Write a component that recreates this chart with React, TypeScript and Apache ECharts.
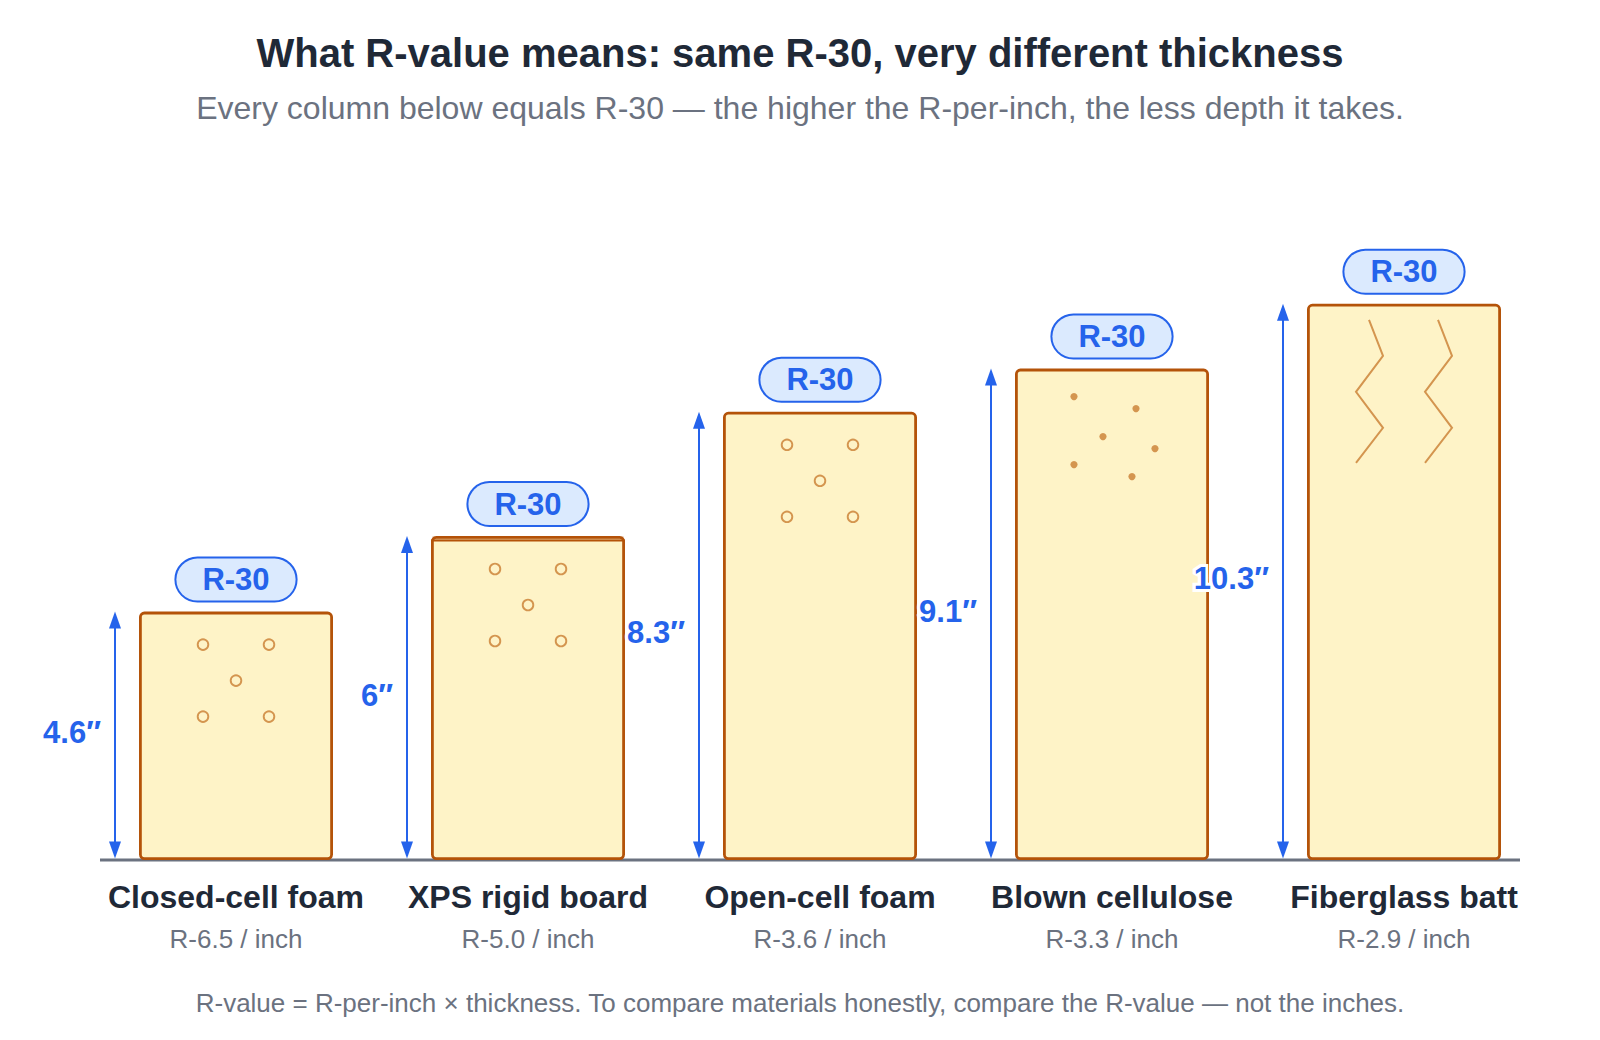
import React, { useEffect, useRef } from 'react';
import * as echarts from 'echarts';

// ---------- data ----------
const MATERIALS = ['Closed-cell foam', 'XPS rigid board', 'Open-cell foam', 'Blown cellulose', 'Fiberglass batt'];
const R_PER_INCH = [6.5, 5.0, 3.6, 3.3, 2.9];
const THICKNESS_IN = [4.6, 6, 8.3, 9.1, 10.3];
const TARGET_R = 30;
const TITLE = 'What R-value means: same R-30, very different thickness';
const SUBTITLE = 'Every column below equals R-30 — the higher the R-per-inch, the less depth it takes.';
const FOOTNOTE = 'R-value = R-per-inch × thickness. To compare materials honestly, compare the R-value — not the inches.';
const Y_MAX = 11;

// ---------- styles ----------
const TEXTURES = ['cells', 'cells-facer', 'cells', 'flecks', 'batt'];
const FONT = '"Liberation Sans", Arial, Helvetica, sans-serif';
const BLUE = '#2563eb';
const BAR_FILL = '#fef3c7';
const BAR_EDGE = '#b45309';
const TEX = '#d4954f';
const BAR_W = 194;

const fmtIn = (v: number) => `${v}″`;

const renderItem = (params: any, api: any) => {
  const i = api.value(0);
  const v = api.value(1);
  const top = api.coord([i, v]);
  const base = api.coord([i, 0]);
  const cx = top[0];
  const ty = top[1];
  const by = base[1];
  const half = BAR_W / 2;
  const ax = cx - half - 24;
  const children: any[] = [];

  // textures
  const tex = TEXTURES[i];
  if (tex === 'cells' || tex === 'cells-facer') {
    const pts = [[-33, 33], [33, 33], [0, 69], [-33, 105], [33, 105]];
    pts.forEach(([dx, dy]) => {
      children.push({
        type: 'circle',
        shape: { cx: cx + dx, cy: ty + dy, r: 5.3 },
        style: { fill: 'none', stroke: TEX, lineWidth: 1.9 },
      });
    });
  }
  if (tex === 'cells-facer') {
    children.push({
      type: 'rect',
      shape: { x: cx - half + 1.5, y: ty, width: BAR_W - 3, height: 4 },
      style: { fill: 'rgba(180,83,9,0.28)' },
    });
    children.push({
      type: 'line',
      shape: { x1: cx - half, y1: ty + 4.5, x2: cx + half, y2: ty + 4.5 },
      style: { stroke: BAR_EDGE, lineWidth: 2 },
    });
  }
  if (tex === 'flecks') {
    const pts = [[-38, 28], [24, 40], [-9, 68], [43, 80], [-38, 96], [20, 108]];
    pts.forEach(([dx, dy]) => {
      children.push({
        type: 'circle',
        shape: { cx: cx + dx, cy: ty + dy, r: 3.6 },
        style: { fill: TEX },
      });
    });
  }
  if (tex === 'batt') {
    const zx = [0, 14, -13, 14, -13];
    const zy = [16, 52, 88, 124, 159];
    [-35, 34].forEach((ox) => {
      children.push({
        type: 'polyline',
        shape: { points: zx.map((dx, k) => [cx + ox + dx, ty + zy[k]]) },
        style: { fill: 'none', stroke: TEX, lineWidth: 2 },
      });
    });
  }

  // dimension arrow
  children.push({
    type: 'line',
    shape: { x1: ax, y1: ty + 10, x2: ax, y2: by - 10 },
    style: { stroke: BLUE, lineWidth: 2 },
  });
  children.push({
    type: 'polygon',
    shape: { points: [[ax, ty], [ax - 6, ty + 17], [ax + 6, ty + 17]] },
    style: { fill: BLUE },
  });
  children.push({
    type: 'polygon',
    shape: { points: [[ax, by - 1.5], [ax - 6, by - 18.5], [ax + 6, by - 18.5]] },
    style: { fill: BLUE },
  });
  children.push({
    type: 'text',
    x: ax - 14,
    y: (ty + by) / 2 - 3,
    style: {
      text: fmtIn(v),
      fill: BLUE,
      fontSize: 31,
      fontWeight: 'bold',
      fontFamily: FONT,
      align: 'right',
      verticalAlign: 'middle',
      stroke: '#ffffff',
      lineWidth: 6,
    },
  });

  return { type: 'group', children };
};

export default function App() {
  const ref = useRef<HTMLDivElement>(null);

  useEffect(() => {
    document.body.style.margin = '0';
    if (!ref.current) return;
    const chart = echarts.init(ref.current, undefined, { renderer: 'svg' });
    chart.setOption({
      animation: false,
      backgroundColor: '#ffffff',
      textStyle: { fontFamily: FONT },
      title: [
        {
          text: TITLE,
          subtext: SUBTITLE,
          left: 'center',
          top: 24,
          itemGap: 14,
          textStyle: { fontSize: 40, fontWeight: 'bold', color: '#1f2937', lineHeight: 48, fontFamily: FONT },
          subtextStyle: { fontSize: 32, color: '#6b7280', lineHeight: 34, fontFamily: FONT },
        },
        {
          text: FOOTNOTE,
          left: 'center',
          top: 983,
          textStyle: { fontSize: 26, fontWeight: 'normal', color: '#6b7280', lineHeight: 30, fontFamily: FONT },
        },
      ],
      grid: { left: 90, right: 50, top: 266, bottom: 180 },
      xAxis: {
        type: 'category',
        data: MATERIALS,
        axisLine: { show: false },
        axisTick: { show: false },
        axisLabel: {
          interval: 0,
          margin: 16,
          formatter: (val: string, idx: number) =>
            `{name|${val}}\n{sub|R-${R_PER_INCH[idx].toFixed(1)} / inch}`,
          rich: {
            name: { fontSize: 32, fontWeight: 'bold', color: '#1f2937', lineHeight: 42, fontFamily: FONT },
            sub: { fontSize: 26, color: '#6b7280', lineHeight: 42, fontFamily: FONT },
          },
        },
      },
      yAxis: { type: 'value', min: 0, max: Y_MAX, show: false },
      graphic: [
        {
          type: 'line',
          z: 0,
          shape: { x1: 100, y1: 860, x2: 1520, y2: 860 },
          style: { stroke: '#6b7280', lineWidth: 3 },
        },
      ],
      series: [
        {
          type: 'bar',
          data: THICKNESS_IN,
          barWidth: BAR_W,
          z: 2,
          itemStyle: { color: BAR_FILL, borderColor: BAR_EDGE, borderWidth: 2.8, borderRadius: 4 },
          label: {
            show: true,
            position: 'top',
            distance: 11,
            formatter: () => `R-${TARGET_R}`,
            color: BLUE,
            fontSize: 31,
            fontWeight: 'bold',
            fontFamily: FONT,
            lineHeight: 30,
            backgroundColor: '#dbeafe',
            borderColor: BLUE,
            borderWidth: 2,
            borderRadius: 22,
            padding: [6, 26],
          },
        },
        {
          type: 'custom',
          z: 3,
          renderItem,
          encode: { x: 0, y: 1 },
          data: THICKNESS_IN.map((v, i) => [i, v]),
        },
      ],
    });
    return () => chart.dispose();
  }, []);

  return <div ref={ref} style={{ width: 1600, height: 1040 }} />;
}
